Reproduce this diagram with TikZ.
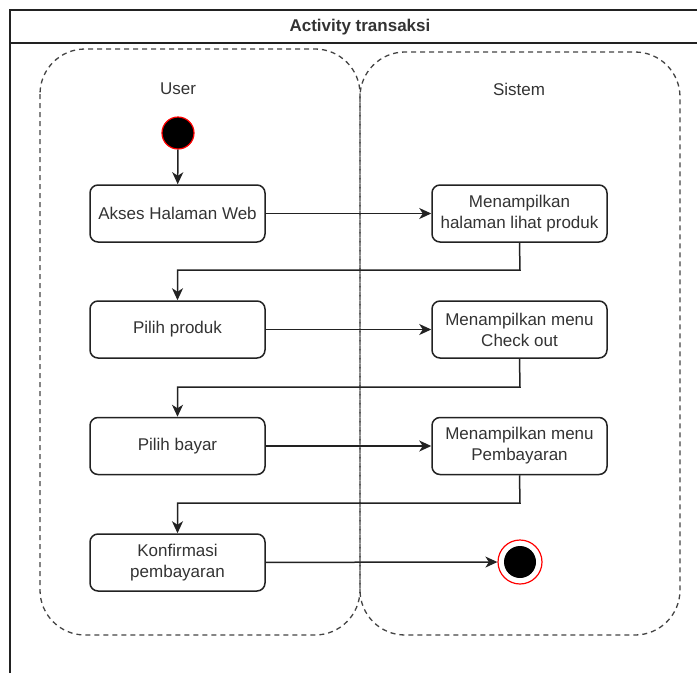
\documentclass[tikz,border=0pt]{standalone}
\usepackage{fontspec}
\setmainfont{Liberation Sans}
\usetikzlibrary{arrows.meta}
\definecolor{txt}{HTML}{333333}
\definecolor{edge}{HTML}{222222}
\definecolor{lanec}{HTML}{444444}
\tikzset{
  x=1pt, y=-1pt,
  frame/.style={line width=1.4pt, draw=edge},
  lane/.style={draw=lanec, line width=1.3pt, dash pattern=on 5pt off 4pt, rounded corners=45pt},
  lanelabel/.style={text=txt, font=\fontsize{17}{20}\selectfont},
  act/.style={draw=edge, line width=1.5pt, rounded corners=8pt, fill=white,
    minimum width=175pt, minimum height=57pt, align=center, text=txt,
    font=\fontsize{17}{21}\selectfont, inner sep=2pt},
  flow/.style={draw=edge, line width=1.5pt, -{Stealth[length=12pt,width=11pt,inset=3.5pt]}},
  startdot/.style={circle, fill=black, draw=red, line width=1.2pt, minimum size=32pt, inner sep=0pt},
  endring/.style={circle, draw=red, line width=1.2pt, fill=white, minimum size=44pt, inner sep=0pt},
  enddot/.style={circle, fill=black, minimum size=32pt, inner sep=0pt},
}
\begin{document}
\begin{tikzpicture}
\useasboundingbox (0,0) rectangle (697,673);

% pool frame with its title bar
\draw[frame] (10,673) -- (10,10) -- (697,10);
\draw[frame] (10,43) -- (697,43);
\node[font=\bfseries\fontsize{17}{20}\selectfont, text=txt] (title) at (360,27) {Activity transaksi};

% swimlanes
\draw[lane] (40,49) rectangle (360,635);
\draw[lane] (360,52) rectangle (680,635);
\node[lanelabel] (luser) at (178,89) {User};
\node[lanelabel] (lsys) at (519,89) {Sistem};

% start node
\node[startdot] (start) at (178,133) {};

% activities: user lane
\node[act] (a1) at (177.5,213.5) {Akses Halaman Web};
\node[act] (a2) at (177.5,329.5) {Pilih produk};
\node[act] (a3) at (177.5,446) {Pilih bayar};
\node[act] (a4) at (177.5,562.5) {Konfirmasi\\pembayaran};

% activities: system lane
\node[act] (s1) at (519.5,213.5) {Menampilkan\\halaman lihat produk};
\node[act] (s2) at (519.5,329.5) {Menampilkan menu\\Check out};
\node[act] (s3) at (519.5,446) {Menampilkan menu\\Pembayaran};

% end node
\node[endring] (stopring) at (520,562) {};
\node[enddot] (stop) at (520,562) {};

% bend points of the return flows
\coordinate (b1) at (520,270);
\coordinate (b2) at (520,387);
\coordinate (b3) at (520,503);

% flows
\draw[flow] (start) -- (a1);
\draw[flow] (a1) -- (s1);
\draw[flow] (s1.south) -- (b1) -| (a2.north);
\draw[flow] (a2) -- (s2);
\draw[flow] (s2.south) -- (b2) -| (a3.north);
\draw[flow] (a3) -- (s3);
\draw[flow] (s3.south) -- (b3) -| (a4.north);
\draw[flow] (a4) -- (stopring);
\end{tikzpicture}
\end{document}
